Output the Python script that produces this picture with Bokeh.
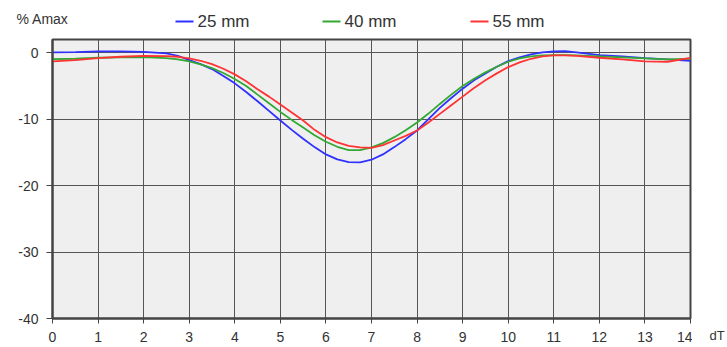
from bokeh.plotting import figure
from bokeh.models import Range1d, FixedTicker
from bokeh.layouts import column, row
from bokeh.core.properties import value
from bokeh.embed import file_html
from bokeh.resources import INLINE

# dT sample points
dt = [0, 0.5, 1, 1.5, 2,
      2.5, 2.75, 3, 3.25, 3.5, 3.75, 4, 4.25, 4.5, 4.75, 5, 5.25, 5.5, 5.75,
      6, 6.25, 6.5, 6.75, 7, 7.25, 7.5, 7.75, 8, 8.25, 8.5, 8.75, 9, 9.25,
      9.5, 9.75, 10, 10.25, 10.5, 10.75, 11, 11.25, 11.5,
      12, 12.5, 13, 13.5, 14]

# % Amax per series
s25 = [0.05, 0.1, 0.2, 0.2, 0.15,
       -0.1, -0.45, -1.1, -1.7, -2.45, -3.5, -4.6, -5.9, -7.3, -8.75, -10.2,
       -11.6, -12.95, -14.2, -15.3, -16.05, -16.45, -16.5, -16.1, -15.3,
       -14.2, -13.0, -11.7, -10.0, -8.3, -6.8, -5.4, -4.15, -3.1, -2.1,
       -1.25, -0.7, -0.25, 0.05, 0.2, 0.25, 0.05,
       -0.35, -0.55, -0.8, -1.0, -1.2]
s40 = [-0.95, -0.9, -0.75, -0.7, -0.65,
       -0.8, -1.0, -1.3, -1.75, -2.3, -3.05, -3.95, -5.0, -6.3, -7.6, -8.9,
       -10.1, -11.25, -12.4, -13.4, -14.15, -14.65, -14.65, -14.25, -13.6,
       -12.7, -11.65, -10.5, -9.15, -7.7, -6.3, -5.0, -3.9, -2.95, -2.1,
       -1.35, -0.85, -0.55, -0.4, -0.35, -0.35, -0.4,
       -0.55, -0.7, -0.85, -1.0, -0.9]
s55 = [-1.3, -1.1, -0.8, -0.6, -0.45,
       -0.5, -0.6, -0.85, -1.2, -1.7, -2.4, -3.25, -4.3, -5.5, -6.6, -7.8,
       -9.0, -10.2, -11.6, -12.7, -13.5, -14.0, -14.25, -14.3, -13.9, -13.2,
       -12.5, -11.7, -10.5, -9.2, -7.9, -6.6, -5.3, -4.15, -3.1,
       -2.15, -1.45, -0.9, -0.55, -0.4, -0.4, -0.45,
       -0.75, -1.0, -1.3, -1.35, -0.75]

series_names = ["25 mm", "40 mm", "55 mm"]
series_values = [s25, s40, s55]
colors = ["#3030ff", "#33a833", "#ff3333"]

x_ticks = list(range(0, 15))
y_ticks = [-40, -30, -20, -10, 0]

y_title = "% Amax"
x_title = "dT"

FONT = "Liberation Sans"
TXT = "#333333"

# ---------------- main chart ----------------
p = figure(width=692, height=309, output_backend="svg", toolbar_location=None,
           x_range=Range1d(0, 14), y_range=Range1d(-40, 2),
           min_border_left=52, min_border_right=2, min_border_top=1,
           min_border_bottom=29)
p.frame_align = False
p.background_fill_color = "#efefef"
p.border_fill_color = "white"
p.outline_line_color = "#444444"
p.outline_line_width = 2

for ax, ticks in ((p.xaxis, x_ticks), (p.yaxis, y_ticks)):
    ax.ticker = FixedTicker(ticks=ticks)
    ax.major_label_overrides = {v: str(v) for v in ticks}
    ax.axis_line_color = "#444444"
    ax.axis_line_width = 2
    ax.major_tick_line_color = "#444444"
    ax.major_tick_line_width = 1
    ax.major_tick_in = 0
    ax.minor_tick_line_color = None
    ax.major_label_text_font = FONT
    ax.major_label_text_font_size = "14px"
    ax.major_label_text_color = TXT
p.xaxis.major_tick_out = 5
p.xaxis.major_label_standoff = 8
p.yaxis.major_tick_out = 6
p.yaxis.major_label_standoff = 8

p.xgrid.ticker = FixedTicker(ticks=x_ticks)
p.ygrid.ticker = FixedTicker(ticks=y_ticks)
for g in (p.xgrid, p.ygrid):
    g.grid_line_color = "#555555"
    g.grid_line_width = 1
    g.grid_line_alpha = 1

for vals, c in zip(series_values, colors):
    p.line(dt, vals, line_color=c, line_width=1.8)

# ---------------- top strip: unit title + legend (pixel coordinates) ----------------
top = figure(width=727, height=38, output_backend="svg", toolbar_location=None,
             x_range=Range1d(0, 727), y_range=Range1d(38, 0),
             x_axis_location=None, y_axis_location=None,
             min_border=0, outline_line_color=None)
top.frame_align = False
top.grid.visible = False
top.background_fill_color = "white"
top.border_fill_color = "white"

top.text(x=[16], y=[18], text=[y_title], text_font=value(FONT),
         text_font_size="14px", text_color=TXT, text_baseline="middle",
         text_align="left")

leg_line_x0 = [175, 322, 470]
leg_line_len = 18
leg_text_gap = 4
leg_y = 21
top.segment(x0=leg_line_x0, y0=[leg_y] * 3,
            x1=[x + leg_line_len for x in leg_line_x0], y1=[leg_y] * 3,
            line_color=colors, line_width=2)
top.text(x=[x + leg_line_len + leg_text_gap for x in leg_line_x0], y=[leg_y] * 3,
         text=series_names, text_font=value(FONT), text_font_size="17px",
         text_color=TXT, text_baseline="middle", text_align="left")

# ---------------- right strip: x unit (pixel coordinates) ----------------
right = figure(width=35, height=309, output_backend="svg", toolbar_location=None,
               x_range=Range1d(0, 35), y_range=Range1d(309, 0),
               x_axis_location=None, y_axis_location=None,
               min_border=0, outline_line_color=None)
right.frame_align = False
right.grid.visible = False
right.background_fill_color = "white"
right.border_fill_color = "white"
right.text(x=[17], y=[297], text=[x_title], text_font=value(FONT),
           text_font_size="13px", text_color=TXT, text_baseline="middle",
           text_align="left")

layout = column(top, row(p, right))
open("out.html", "w").write(file_html(layout, INLINE))
